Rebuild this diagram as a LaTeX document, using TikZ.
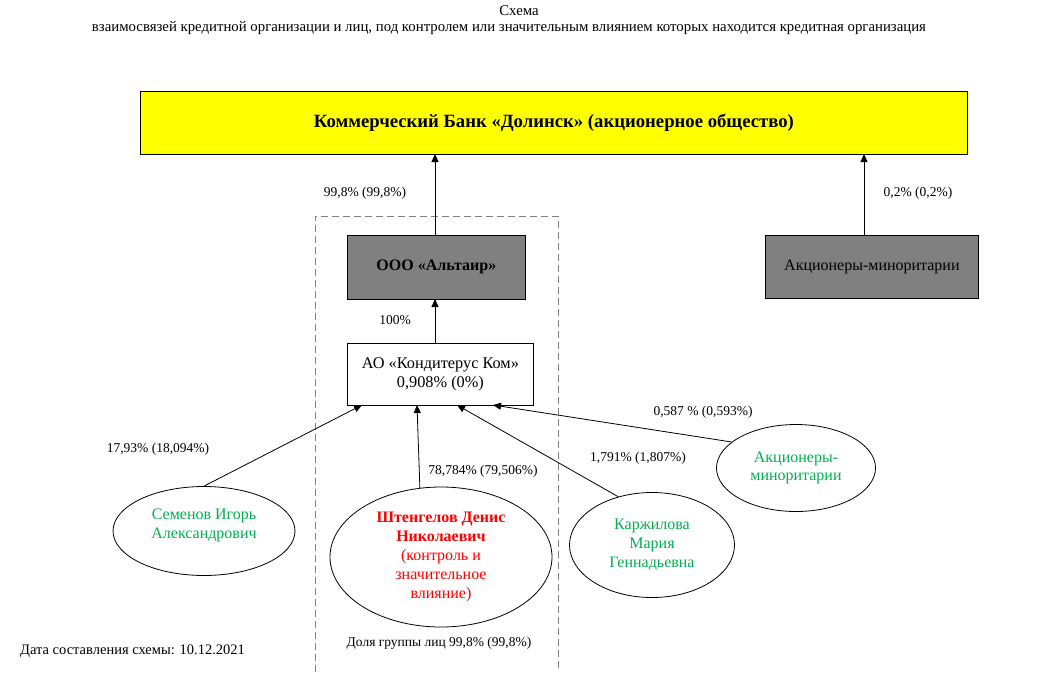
\documentclass[tikz,border=0pt]{standalone}
\usepackage{fontspec}
\setmainfont{Liberation Serif}
\usetikzlibrary{shapes.geometric,arrows.meta}
\definecolor{bankyellow}{RGB}{255,255,0}
\definecolor{boxgray}{RGB}{128,128,128}
\definecolor{pgreen}{RGB}{0,176,80}
\definecolor{pred}{RGB}{255,0,0}
\definecolor{dashgray}{RGB}{128,128,128}
\tikzset{
  rbox/.style={draw=black, line width=0.8pt, inner sep=0pt, anchor=north west},
  pers/.style={draw=black, line width=0.8pt, ellipse, inner sep=0pt, align=center, font=\fontsize{16}{18.8}\selectfont},
  lbl/.style={font=\fontsize{13.5}{16}\selectfont, inner sep=0pt},
  arr/.style={-{Triangle[length=8pt,width=7pt]}, line width=0.8pt},
}
\begin{document}
\begin{tikzpicture}[x=1pt,y=-1pt]
\useasboundingbox (0,0) rectangle (1038,672);
% titles
\node[font=\fontsize{14.8}{17}\selectfont, inner sep=0pt] (t1) at (519,11) {Схема};
\node[font=\fontsize{14.8}{17}\selectfont, inner sep=0pt] (t2) at (509,28) {взаимосвязей кредитной организации и лиц, под контролем или значительным влиянием которых находится кредитная организация};
% dashed group
\draw[dashgray, dashed, dash pattern=on 7pt off 4pt, line width=0.9pt] (315,672) -- (315,216) -- (558,216) -- (558,672);
% bank
\node[rbox, fill=bankyellow, minimum width=827pt, minimum height=63pt] (bank) at (140,91) {};
\node[font=\bfseries\fontsize{18.7}{22}\selectfont] (bankt) at (bank.center) {Коммерческий Банк «Долинск» (акционерное общество)};
% altair
\node[rbox, fill=boxgray, minimum width=178pt, minimum height=64pt] (alt) at (347,235) {};
\node[font=\bfseries\fontsize{16}{19}\selectfont] (altt) at (alt.center) {ООО «Альтаир»};
% minority box
\node[rbox, fill=boxgray, minimum width=213pt, minimum height=63pt] (minb) at (765,235) {};
\node[font=\fontsize{16}{19}\selectfont] (minbt) at (minb.center) {Акционеры-миноритарии};
% konditerus
\node[rbox, fill=white, minimum width=186pt, minimum height=62pt] (kon) at (347,343) {};
\node[font=\fontsize{16.3}{19}\selectfont, align=center] (kont) at (kon.center) {АО «Кондитерус Ком»\\0,908\% (0\%)};
% persons
\node[pers, minimum width=182pt, minimum height=89pt, text=pgreen] (sem) at (204,531) {Семенов Игорь\\Александрович\\[-4pt]};
\node[pers, minimum width=222pt, minimum height=140pt, text=pred] (sht) at (441,557) {\textbf{Штенгелов Денис}\\\textbf{Николаевич}\\(контроль и\\значительное\\влияние)};
\node[pers, minimum width=165pt, minimum height=105pt, text=pgreen] (kar) at (652,545) {Каржилова\\Мария\\Геннадьевна};
\node[pers, minimum width=159pt, minimum height=87pt, text=pgreen] (mine) at (796,468) {Акционеры-\\миноритарии};
% arrow targets
\coordinate (k1) at (362,405);
\coordinate (k2) at (417,405);
\coordinate (k3) at (457,405);
\coordinate (k4) at (493,405);
\coordinate (b1) at (435,154);
\coordinate (b2) at (864,154);
\coordinate (a1) at (435,299);
\coordinate (s1) at (435,235);
\coordinate (s2) at (864,235);
\coordinate (s3) at (435,343);
% arrows
\draw[arr] (s1) -- (b1);
\draw[arr] (s2) -- (b2);
\draw[arr] (s3) -- (a1);
\draw[arr] (sem.north) -- (k1);
\draw[arr] (sht.107) -- (k2);
\draw[arr] (kar.125) -- (k3);
\draw[arr] (mine.158) -- (k4);
% labels
\node[lbl] (l1) at (365,193) {99,8\% (99,8\%)};
\node[lbl] (l2) at (918,193) {0,2\% (0,2\%)};
\node[lbl] (l3) at (395,320) {100\%};
\node[lbl] (l4) at (158,449) {17,93\% (18,094\%)};
\node[lbl] (l5) at (483,471) {78,784\% (79,506\%)};
\node[lbl] (l6) at (638,458) {1,791\% (1,807\%)};
\node[lbl] (l7) at (703,412) {0,587 \% (0,593\%)};
\node[lbl] (l8) at (439,643) {Доля группы лиц 99,8\% (99,8\%)};
\node[font=\fontsize{14.5}{17}\selectfont, inner sep=0pt, anchor=west] (date) at (20,651) {Дата составления схемы: 10.12.2021};
\end{tikzpicture}
\end{document}
